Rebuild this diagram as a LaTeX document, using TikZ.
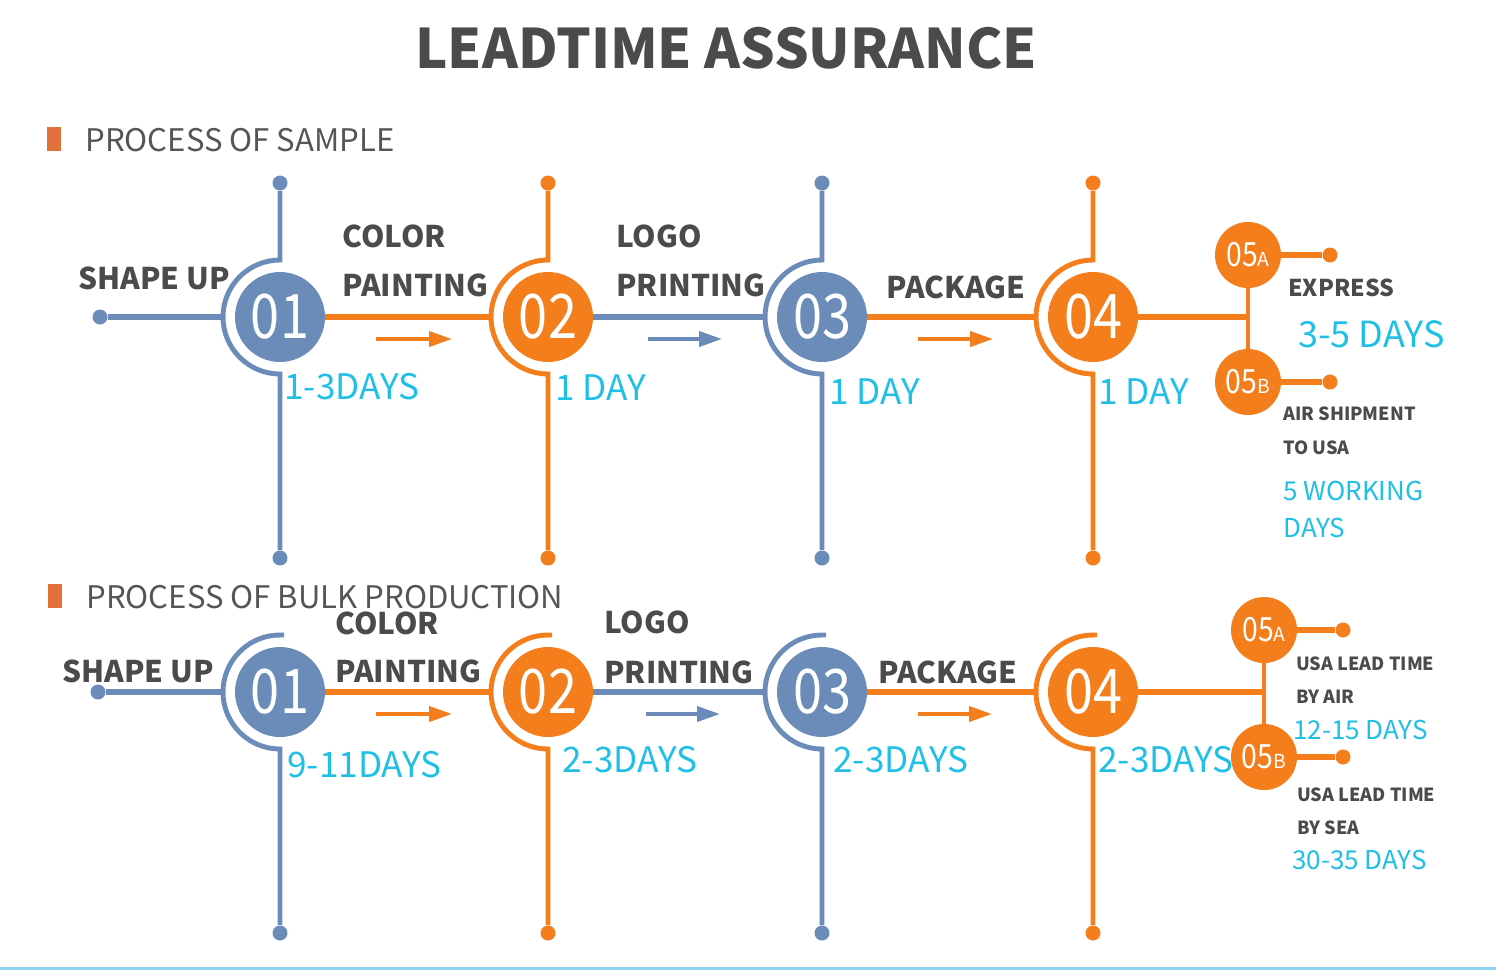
\documentclass[tikz,border=0pt]{standalone}
\usepackage{fontspec}
\setmainfont{Noto Sans CJK SC}
\usetikzlibrary{calc,arrows.meta}

\definecolor{stepblue}{HTML}{6B8CB9}
\definecolor{steporange}{HTML}{F47D1C}
\definecolor{daycyan}{HTML}{20BFE6}
\definecolor{labelgray}{HTML}{4B4B4B}
\definecolor{headgray}{HTML}{555555}
\definecolor{headmark}{HTML}{E2703A}
\definecolor{baseblue}{HTML}{8FD3F2}

\newcommand\stepno[1]{\scalebox{0.85}[1]{#1}}
\newcommand\subno[2]{\scalebox{0.85}[1]{#1}{\fontsize{11}{11}\selectfont #2}}

\begin{document}
\begin{tikzpicture}[
  x=0.02cm, y=-0.02cm,
  num/.style={circle, minimum size=1.8cm, inner sep=0pt, text=white,
    font=\fontsize{35}{35}\selectfont},
  subnum/.style={circle, fill=steporange, minimum size=1.32cm, inner sep=0pt,
    text=white, font=\fontsize{19}{19}\selectfont},
  dot/.style={circle, minimum size=0.3cm, inner sep=0pt},
  ring/.style={line width=2.8pt},
  hline/.style={line width=3.4pt},
  flow/.style={line width=2.2pt, -{Triangle[length=0.46cm, width=0.3cm]}},
  lbl/.style={anchor=west, inner sep=0pt, text=labelgray,
    font=\bfseries\fontsize{17}{17}\selectfont},
  note/.style={anchor=west, inner sep=0pt, text=labelgray,
    font=\bfseries\fontsize{10.3}{10.3}\selectfont},
  days/.style={anchor=west, inner sep=0pt, text=daycyan,
    font=\fontsize{20}{20}\selectfont},
  smalldays/.style={days, font=\fontsize{14.8}{14.8}\selectfont},
  head/.style={anchor=west, inner sep=0pt, text=headgray,
    font=\fontsize{17.7}{17.7}\selectfont},
  headmarker/.style={rectangle, fill=headmark, minimum width=0.28cm,
    minimum height=0.48cm, inner sep=0pt}
]
\fill[white] (0,0) rectangle (1496,971);
\useasboundingbox (0,0) rectangle (1496,971);

% ── Title and headings ──
\node[text=labelgray, font=\bfseries\fontsize{31}{31}\selectfont]
  (title) at (726,48) {LEADTIME ASSURANCE};
\node[headmarker] (m1) at (54,139) {};
\node[head] (h1) at (85,140) {PROCESS OF SAMPLE};
\node[headmarker] (m2) at (55,596) {};
\node[head] (h2) at (86,597) {PROCESS OF BULK PRODUCTION};

% ── Sample: step circles ──
\node[num, fill=stepblue]   (s1) at (280,317)  {\stepno{01}};
\node[num, fill=steporange] (s2) at (548,317)  {\stepno{02}};
\node[num, fill=stepblue]   (s3) at (822,317)  {\stepno{03}};
\node[num, fill=steporange] (s4) at (1093,317) {\stepno{04}};
\node[subnum] (s5a) at (1248,255) {\subno{05}{A}};
\node[subnum] (s5b) at (1248,382) {\subno{05}{B}};

% ── Sample: end dots ──
\node[dot, fill=stepblue]   (s0)  at (100,317)  {};
\node[dot, fill=stepblue]   (s1t) at (280,183)  {};
\node[dot, fill=stepblue]   (s1b) at (280,558)  {};
\node[dot, fill=steporange] (s2t) at (548,183)  {};
\node[dot, fill=steporange] (s2b) at (548,558)  {};
\node[dot, fill=stepblue]   (s3t) at (822,183)  {};
\node[dot, fill=stepblue]   (s3b) at (822,558)  {};
\node[dot, fill=steporange] (s4t) at (1093,183) {};
\node[dot, fill=steporange] (s4b) at (1093,558) {};
\node[dot, fill=steporange] (e5a) at (1330,255) {};
\node[dot, fill=steporange] (e5b) at (1330,382) {};

% ── Sample: rings ──
\draw[ring, stepblue] (s1t) -- ($(s1)+(0,-57)$)
  arc[start angle=270, end angle=90, radius=57] -- (s1b);
\draw[ring, steporange] (s2t) -- ($(s2)+(0,-57)$)
  arc[start angle=270, end angle=90, radius=57] -- (s2b);
\draw[ring, stepblue] (s3t) -- ($(s3)+(0,-57)$)
  arc[start angle=270, end angle=90, radius=57] -- (s3b);
\draw[ring, steporange] (s4t) -- ($(s4)+(0,-57)$)
  arc[start angle=270, end angle=90, radius=57] -- (s4b);

% ── Sample: main flow ──
\draw[hline, stepblue]   (s0) -- ($(s1)+(-57,0)$);
\draw[hline, steporange] (s1) -- ($(s2)+(-57,0)$);
\draw[hline, stepblue]   (s2) -- ($(s3)+(-57,0)$);
\draw[hline, steporange] (s3) -- ($(s4)+(-57,0)$);
\draw[hline, steporange] (s4) -- (s4 -| s5a);
\draw[ring, steporange]  (s5a) -- (s5b);
\draw[hline, steporange] (s5a) -- (e5a);
\draw[hline, steporange] (s5b) -- (e5b);
\draw[flow, steporange] ([shift={(96,22)}]s1.center) -- ++(76,0);
\draw[flow, stepblue]   ([shift={(100,22)}]s2.center) -- ++(74,0);
\draw[flow, steporange] ([shift={(96,22)}]s3.center) -- ++(75,0);

% ── Sample: labels ──
\node[lbl] at (78,278)  {SHAPE UP};
\node[lbl] at (342,236) {COLOR};
\node[lbl] at (342,285) {PAINTING};
\node[lbl] at (616,236) {LOGO};
\node[lbl] at (616,285) {PRINTING};
\node[lbl] at (886,287) {PACKAGE};
\node[days] at (284,387)  {1-3DAYS};
\node[days] at (555,388)  {1 DAY};
\node[days] at (829,392)  {1 DAY};
\node[days] at (1098,392) {1 DAY};
\node[lbl, font=\bfseries\fontsize{13.2}{13.2}\selectfont] at (1288,288) {EXPRESS};
\node[days, font=\fontsize{20.5}{20.5}\selectfont] at (1298,334) {3-5 DAYS};
\node[note] at (1283,414) {AIR SHIPMENT};
\node[note] at (1283,448) {TO USA};
\node[smalldays] at (1283,491) {5 WORKING};
\node[smalldays] at (1283,528) {DAYS};

% ── Bulk: step circles ──
\node[num, fill=stepblue]   (b1) at (280,692)  {\stepno{01}};
\node[num, fill=steporange] (b2) at (548,692)  {\stepno{02}};
\node[num, fill=stepblue]   (b3) at (822,692)  {\stepno{03}};
\node[num, fill=steporange] (b4) at (1093,692) {\stepno{04}};
\node[subnum] (b5a) at (1264,630) {\subno{05}{A}};
\node[subnum] (b5b) at (1264,757) {\subno{05}{B}};

% ── Bulk: end dots ──
\node[dot, fill=stepblue]   (b0)  at (98,692)   {};
\node[dot, fill=stepblue]   (b1b) at (280,933)  {};
\node[dot, fill=steporange] (b2b) at (548,933)  {};
\node[dot, fill=stepblue]   (b3b) at (822,933)  {};
\node[dot, fill=steporange] (b4b) at (1093,933) {};
\node[dot, fill=steporange] (f5a) at (1343,630) {};
\node[dot, fill=steporange] (f5b) at (1343,757) {};

% ── Bulk: rings ──
\draw[ring, stepblue] ($(b1)+(4,-57)$) -- ($(b1)+(0,-57)$)
  arc[start angle=270, end angle=90, radius=57] -- (b1b);
\draw[ring, steporange] ($(b2)+(4,-57)$) -- ($(b2)+(0,-57)$)
  arc[start angle=270, end angle=90, radius=57] -- (b2b);
\draw[ring, stepblue] ($(b3)+(4,-57)$) -- ($(b3)+(0,-57)$)
  arc[start angle=270, end angle=90, radius=57] -- (b3b);
\draw[ring, steporange] ($(b4)+(4,-57)$) -- ($(b4)+(0,-57)$)
  arc[start angle=270, end angle=90, radius=57] -- (b4b);

% ── Bulk: main flow ──
\draw[hline, stepblue]   (b0) -- ($(b1)+(-57,0)$);
\draw[hline, steporange] (b1) -- ($(b2)+(-57,0)$);
\draw[hline, stepblue]   (b2) -- ($(b3)+(-57,0)$);
\draw[hline, steporange] (b3) -- ($(b4)+(-57,0)$);
\draw[hline, steporange] (b4) -- (b4 -| b5a);
\draw[ring, steporange]  (b5a) -- (b5b);
\draw[hline, steporange] (b5a) -- (f5a);
\draw[hline, steporange] (b5b) -- (f5b);
\draw[flow, steporange] ([shift={(96,22)}]b1.center) -- ++(76,0);
\draw[flow, stepblue]   ([shift={(98,22)}]b2.center) -- ++(74,0);
\draw[flow, steporange] ([shift={(96,22)}]b3.center) -- ++(74,0);

% ── Bulk: labels ──
\node[lbl] at (62,671)  {SHAPE UP};
\node[lbl] at (335,623) {COLOR};
\node[lbl] at (335,671) {PAINTING};
\node[lbl] at (604,622) {LOGO};
\node[lbl] at (604,672) {PRINTING};
\node[lbl] at (878,672) {PACKAGE};
\node[days] at (287,765)  {9-11DAYS};
\node[days] at (562,760)  {2-3DAYS};
\node[days] at (833,760)  {2-3DAYS};
\node[days] at (1098,760) {2-3DAYS};
\node[note] at (1296,664) {USA LEAD TIME};
\node[note] at (1296,697) {BY AIR};
\node[smalldays] at (1293,730) {12-15 DAYS};
\node[note] at (1297,795) {USA LEAD TIME};
\node[note] at (1297,828) {BY SEA};
\node[smalldays] at (1292,860) {30-35 DAYS};

% ── Base line ──
\draw[line width=1.7pt, baseblue] (0,968) -- (1496,968);

\end{tikzpicture}
\end{document}
